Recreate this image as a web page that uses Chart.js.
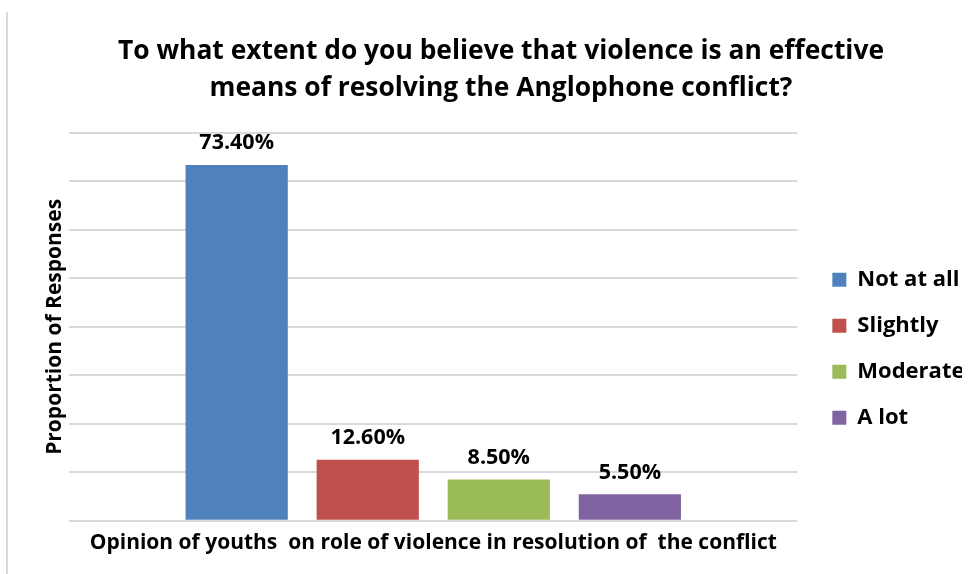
<!DOCTYPE html>
<html>
<head>
<meta charset="utf-8">
<script src="https://cdn.jsdelivr.net/npm/chart.js@4.4.0/dist/chart.umd.min.js"></script>
<style>
  html, body { margin: 0; padding: 0; background: #fff; }
  #wrap { position: relative; width: 978px; height: 574px; }
  #edge { position: absolute; left: 6px; top: 12px; width: 2px; height: 562px; background: #d9d9d9; }
  canvas { position: absolute; left: 0; top: 0; }
</style>
</head>
<body>
<div id="wrap">
  <div id="edge"></div>
  <canvas id="chart" width="978" height="574"></canvas>
</div>
<script>
// chart data
const categories = ['Opinion of youths  on role of violence in resolution of  the conflict'];
const seriesNames = ['Not at all', 'Slightly', 'Moderate', 'A lot'];
const seriesValues = [73.4, 12.6, 8.5, 5.5];
const seriesColors = ['#4f81bd', '#c0504d', '#9bbb59', '#8064a2'];
const yTicks = [0, 10, 20, 30, 40, 50, 60, 70, 80];

const FONT = '"Open Sans", Lato, sans-serif';

// draws the percentage above each bar
const valueLabels = {
    id: 'valueLabels',
    afterDatasetsDraw(chart) {
        const ctx = chart.ctx;
        ctx.save();
        ctx.font = `bold 21.5px ${FONT}`;
        ctx.fillStyle = '#000';
        ctx.textAlign = 'center';
        ctx.textBaseline = 'bottom';
        chart.data.datasets.forEach((ds, i) => {
            const meta = chart.getDatasetMeta(i);
            meta.data.forEach((bar, j) => {
                ctx.fillText(ds.data[j].toFixed(2) + '%', bar.x, bar.y - 11);
            });
        });
        ctx.restore();
    }
};

const datasets = seriesNames.map((name, i) => ({
    label: name,
    data: [seriesValues[i]],
    backgroundColor: seriesColors[i],
    categoryPercentage: 0.72,
    barPercentage: 0.78
}));

new Chart(document.getElementById('chart'), {
    type: 'bar',
    data: { labels: categories, datasets },
    plugins: [valueLabels],
    options: {
        responsive: false,
        animation: false,
        layout: { padding: { left: 40, right: 16, top: 33, bottom: 16 } },
        plugins: {
            title: {
                display: true,
                text: ['To what extent do you believe that violence is an effective',
                       'means of resolving the Anglophone conflict?'],
                color: '#000',
                font: { family: FONT, size: 26.4, weight: 'bold', lineHeight: 1.4 },
                padding: { top: 0, bottom: 26 }
            },
            legend: {
                position: 'right',
                title: { display: true, text: ' ', font: { size: 12 }, padding: { top: 0, bottom: 92 } },
                labels: {
                    color: '#000',
                    font: { family: FONT, size: 22, weight: 'bold' },
                    boxWidth: 14,
                    boxHeight: 14,
                    padding: 24
                }
            },
            tooltip: { enabled: false }
        },
        scales: {
            x: {
                grid: { display: false },
                border: { display: false },
                ticks: { color: '#000', font: { family: FONT, size: 21, weight: 'bold' }, padding: 2 }
            },
            y: {
                min: 0,
                max: yTicks[yTicks.length - 1],
                afterBuildTicks(axis) { axis.ticks = yTicks.map(v => ({ value: v })); },
                ticks: { display: false },
                grid: { color: '#d9d9d9', lineWidth: 2, drawTicks: false },
                border: { display: false },
                title: {
                    display: true,
                    text: 'Proportion of Responses',
                    color: '#000',
                    font: { family: FONT, size: 21, weight: 'bold' },
                    padding: 2
                }
            },
            // empty axis, only keeps a gap between the plot and the legend
            gap: {
                type: 'linear',
                position: 'right',
                ticks: { display: false },
                grid: { display: false },
                border: { display: false },
                afterFit(scale) { scale.width = 11; }
            }
        }
    }
});
</script>
</body>
</html>
